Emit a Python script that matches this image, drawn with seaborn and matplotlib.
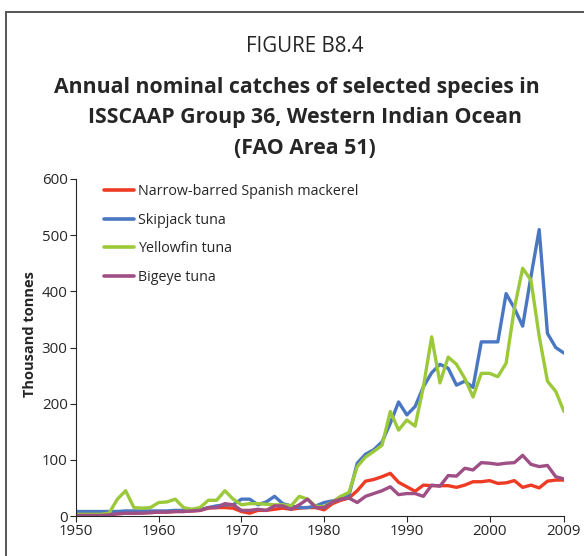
import matplotlib
matplotlib.use("Agg")
import matplotlib.pyplot as plt
import seaborn as sns
import pandas as pd
from matplotlib.patches import Rectangle

years = list(range(1950, 2010))

mackerel = [1, 1, 2, 2, 3, 4, 5, 5, 6, 6,
            7, 7, 8, 8, 9, 10, 14, 15, 15, 14,
            8, 5, 10, 10, 12, 14, 12, 14, 15, 15,
            11, 22, 28, 32, 45, 62, 65, 70, 76, 60,
            52, 44, 55, 54, 54, 54, 51, 55, 61, 61,
            63, 58, 59, 63, 51, 55, 50, 62, 64, 64]

skipjack = [8, 8, 8, 8, 8, 8, 9, 9, 9, 9,
            9, 9, 10, 10, 10, 11, 15, 18, 20, 20,
            30, 30, 20, 25, 35, 22, 18, 15, 15, 18,
            24, 27, 30, 37, 94, 110, 118, 132, 165, 203,
            180, 195, 230, 255, 270, 263, 233, 240, 229, 310,
            310, 310, 396, 370, 338, 426, 510, 325, 300, 290]

yellowfin = [3, 3, 3, 3, 5, 30, 45, 15, 14, 15,
             24, 25, 30, 15, 12, 15, 28, 28, 45, 30,
             20, 22, 22, 21, 20, 20, 18, 35, 30, 17,
             17, 25, 35, 42, 88, 105, 115, 126, 186, 153,
             171, 160, 230, 319, 237, 283, 270, 245, 212, 254,
             254, 248, 272, 370, 441, 420, 320, 240, 222, 186]

bigeye = [1, 1, 1, 1, 2, 4, 5, 5, 5, 6,
          7, 7, 8, 8, 9, 10, 15, 15, 22, 20,
          10, 10, 12, 10, 18, 18, 12, 20, 30, 15,
          15, 25, 30, 32, 24, 35, 40, 45, 52, 38,
          40, 40, 35, 55, 53, 72, 71, 85, 82, 95,
          94, 92, 94, 95, 108, 92, 88, 90, 70, 66]

species = ["Narrow-barred Spanish mackerel", "Skipjack tuna", "Yellowfin tuna", "Bigeye tuna"]
colors = ["#EE3B24", "#4A77C2", "#9BC93A", "#9E4F85"]
series = [mackerel, skipjack, yellowfin, bigeye]

xticks = [1950, 1960, 1970, 1980, 1990, 2000, 2009]
yticks = [0, 100, 200, 300, 400, 500, 600]

df = pd.concat([pd.DataFrame({"Year": years, "Catch": s, "Species": n})
                for n, s in zip(species, series)], ignore_index=True)

sns.set_style("ticks")
plt.rcParams["font.family"] = ["Open Sans", "DejaVu Sans"]

fig = plt.figure(figsize=(5.84, 5.56), dpi=100)
ax = fig.add_axes([76/584, 1-516/556, (564-76)/584, (516-179)/556])

sns.lineplot(data=df, x="Year", y="Catch", hue="Species", hue_order=species,
             palette=colors, linewidth=2.4, ax=ax)

ax.set_xlim(1950, 2009)
ax.set_ylim(0, 600)
ax.set_xticks(xticks)
ax.set_yticks(yticks)
ax.tick_params(axis="both", labelsize=10.8, length=4, width=0.8, direction="out", pad=2)
for s in ["top", "right"]:
    ax.spines[s].set_visible(False)
for s in ["left", "bottom"]:
    ax.spines[s].set_linewidth(0.8)
ax.set_xlabel("")
ax.set_ylabel("Thousand tonnes", fontsize=10.5, fontweight="bold")
ax.yaxis.set_label_coords(-0.08, 0.54)

leg = ax.legend(loc="upper left", bbox_to_anchor=(0.04, 1.01), frameon=False,
                fontsize=10.3, handlelength=2.1, handletextpad=0.3,
                labelspacing=0.95, borderaxespad=0.2)
for line in leg.get_lines():
    line.set_linewidth(2.6)

fig.text(305/584, 1-46/556, "FIGURE B8.4", ha="center", va="center", fontsize=14.8)
fig.text(297/584, 1-88/556, "Annual nominal catches of selected species in",
         ha="center", va="center", fontsize=15.3, fontweight="bold")
fig.text(305/584, 1-118/556, "ISSCAAP Group 36, Western Indian Ocean",
         ha="center", va="center", fontsize=15.3, fontweight="bold")
fig.text(305/584, 1-148/556, "(FAO Area 51)",
         ha="center", va="center", fontsize=15.3, fontweight="bold")

fig.patches.append(Rectangle((6/584, -0.05), 1.2, 1-12/556+0.05,
                             transform=fig.transFigure, fill=False,
                             edgecolor="#555555", linewidth=1.4))

fig.savefig("out.png", dpi=100)
